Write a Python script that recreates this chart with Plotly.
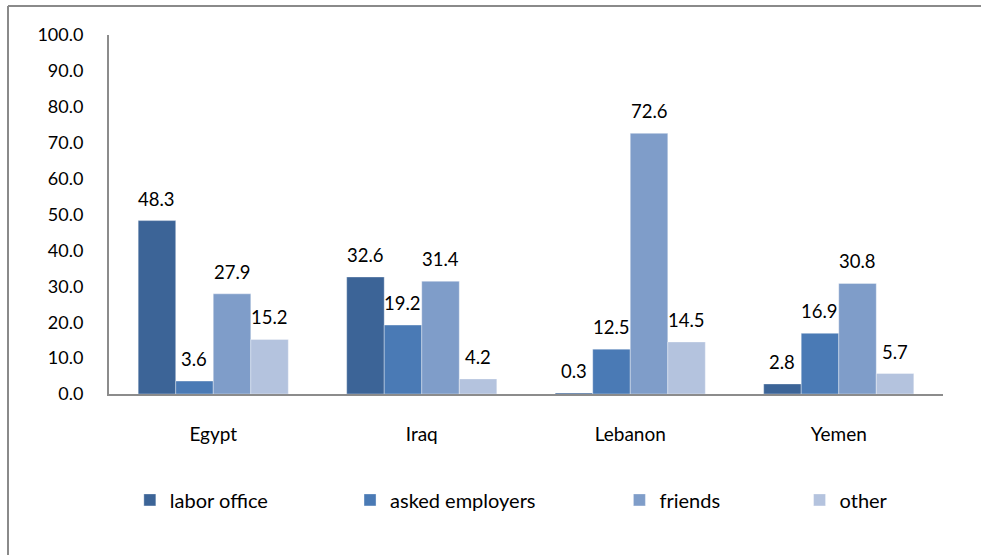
import plotly.graph_objects as go

# Job-search channels by country (percent)
countries = ["Egypt", "Iraq", "Lebanon", "Yemen"]
series_names = ["labor office", "asked employers", "friends", "other"]
labor_office = [48.3, 32.6, 0.3, 2.8]
asked_employers = [3.6, 19.2, 12.5, 16.9]
friends = [27.9, 31.4, 72.6, 30.8]
other = [15.2, 4.2, 14.5, 5.7]
y_ticks = [0, 10, 20, 30, 40, 50, 60, 70, 80, 90, 100]

series_values = [labor_office, asked_employers, friends, other]
colors = ["#3c6497", "#4a7ab5", "#7f9dc9", "#b4c3de"]
legend_x = [0.025, 0.289, 0.612, 0.828]

FONT = "Lato"
BAR_GAP = 0.28

fig = go.Figure()
for k, (name, vals, col) in enumerate(zip(series_names, series_values, colors)):
    fig.add_trace(go.Bar(
        x=countries, y=vals, name=name,
        marker=dict(color=col, line=dict(color="rgba(255,255,255,0.35)", width=1)),
        legend="legend" if k == 0 else f"legend{k + 1}",
        hovertemplate="%{x}: %{y:.1f}<extra>" + name + "</extra>",
    ))

# value labels above each bar
n = len(series_values)
slot = (1 - BAR_GAP) / n
annotations = []
for k, vals in enumerate(series_values):
    for ci, v in enumerate(vals):
        annotations.append(dict(
            x=ci + (k - (n - 1) / 2) * slot, y=v, xref="x", yref="y",
            text=f"{v:.1f}", showarrow=False, yanchor="middle", yshift=22,
            font=dict(family=FONT, size=18.5, color="#000000"),
        ))

legends = {}
for k in range(n):
    key = "legend" if k == 0 else f"legend{k + 1}"
    legends[key] = dict(
        x=legend_x[k], y=-0.295, xanchor="left", yanchor="middle",
        orientation="h", bgcolor="rgba(0,0,0,0)",
        font=dict(family=FONT, size=20, color="#000000"),
    )

border_color = "#8a8a8a"
fig.update_layout(
    width=981, height=555,
    margin=dict(l=109, r=38, t=35, b=161),
    paper_bgcolor="#ffffff", plot_bgcolor="#ffffff",
    barmode="group", bargap=BAR_GAP, bargroupgap=0,
    font=dict(family=FONT, size=18, color="#000000"),
    annotations=annotations,
    showlegend=True,
    shapes=[
        dict(type="line", xref="paper", yref="paper", x0=-0.1211, x1=1.06, y0=1.0808, y1=1.0808,
             line=dict(color=border_color, width=2)),
        dict(type="line", xref="paper", yref="paper", x0=-0.1211, x1=-0.1211, y0=1.0808, y1=-0.46,
             line=dict(color=border_color, width=2)),
    ],
    **legends,
)
fig.update_xaxes(
    type="category", showline=True, linecolor="#8c8c8c", linewidth=2,
    ticks="", showgrid=False, ticklabelstandoff=22,
    tickfont=dict(family=FONT, size=19, color="#000000"),
)
fig.update_yaxes(
    range=[0, 100], tickvals=y_ticks, tickformat=".1f",
    showline=True, linecolor="#8c8c8c", linewidth=2, ticks="",
    showgrid=False, zeroline=False, ticklabelstandoff=20,
    tickfont=dict(family=FONT, size=18, color="#000000"),
)

fig.write_html("out.html")
